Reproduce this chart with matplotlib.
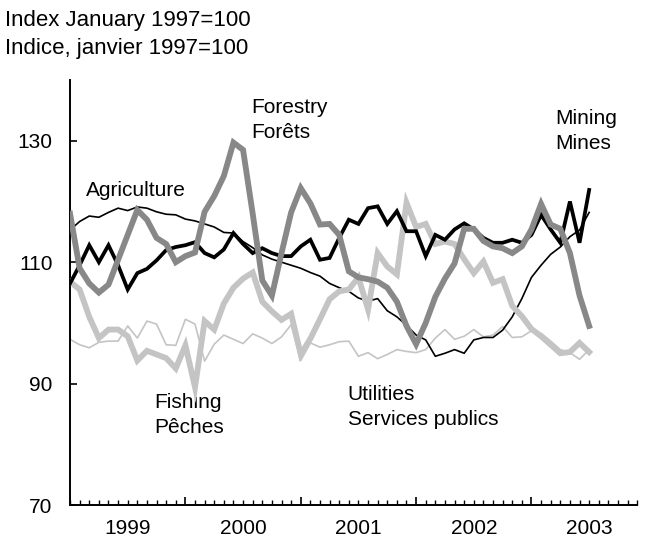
import numpy as np
import matplotlib
matplotlib.use("Agg")
import matplotlib.pyplot as plt
import matplotlib.transforms as mtransforms

plt.rcParams["font.family"] = ["Liberation Sans", "DejaVu Sans"]

# monthly index, January 1999 = 0
months = np.arange(55)
year_labels = ["1999", "2000", "2001", "2002", "2003"]

mining = [106.5, 109.5, 112.8, 110.0, 112.8, 109.5, 105.5, 108.2, 108.9, 110.3,
          112.0, 112.5, 112.8, 113.3, 111.5, 110.8, 112.1, 114.8, 113.0, 111.5,
          112.3, 111.5, 111.0, 111.0, 112.6, 113.7, 110.4, 110.7, 114.0, 117.0,
          116.3, 118.9, 119.2, 116.3, 118.4, 115.1, 115.1, 111.0, 114.5, 113.7,
          115.4, 116.4, 115.4, 114.0, 113.2, 113.2, 113.7, 113.2, 114.5, 117.8,
          115.4, 113.2, 120.0, 113.2, 121.9]

agriculture = [115.3, 116.7, 117.6, 117.4, 118.2, 118.9, 118.5, 119.1, 118.9, 118.3,
               117.9, 117.8, 117.1, 116.8, 116.3, 115.8, 114.9, 114.8, 113.4, 112.4,
               111.2, 110.5, 110.0, 109.5, 109.0, 108.3, 107.7, 106.5, 105.8, 105.2,
               104.1, 103.6, 104.0, 102.0, 101.0, 99.6, 98.0, 97.2, 94.5, 95.0,
               95.6, 95.0, 97.2, 97.6, 97.6, 98.8, 101.0, 104.0, 107.5, 109.5,
               111.3, 112.5, 114.2, 115.3, 118.2]

forestry = [118.0, 109.0, 106.5, 105.0, 106.3, 110.4, 114.5, 118.6, 117.0, 114.0,
            113.0, 110.0, 111.0, 111.6, 118.3, 120.9, 124.2, 129.7, 128.5, 118.0,
            107.0, 104.5, 111.5, 118.2, 122.2, 119.7, 116.2, 116.3, 114.5, 108.5,
            107.5, 107.2, 106.8, 105.8, 103.5, 99.5, 96.5, 100.0, 104.3, 107.3,
            109.8, 115.5, 115.5, 113.5, 112.6, 112.3, 111.5, 112.6, 115.4, 119.6,
            116.2, 115.5, 111.5, 104.5, 99.5]

fishing = [106.8, 105.5, 101.0, 97.5, 98.9, 98.9, 97.8, 93.8, 95.4, 94.8,
           94.2, 92.5, 96.3, 89.4, 100.3, 98.9, 103.2, 105.8, 107.3, 108.3,
           103.5, 101.9, 100.5, 101.5, 94.8, 97.4, 100.6, 103.9, 105.2, 105.5,
           107.5, 102.2, 111.5, 109.3, 108.0, 119.8, 115.8, 116.3, 113.0, 113.4,
           113.0, 110.5, 108.2, 110.1, 106.6, 107.2, 102.8, 101.1, 99.0, 97.8,
           96.4, 95.0, 95.2, 96.7, 95.2]

utilities = [97.3, 96.4, 95.9, 96.8, 97.0, 97.0, 99.5, 97.5, 100.3, 99.8,
             96.4, 96.3, 100.6, 99.8, 93.7, 96.5, 98.0, 97.3, 96.6, 98.2,
             97.5, 96.6, 97.7, 99.7, 93.8, 96.7, 96.0, 96.4, 96.9, 97.0,
             94.5, 95.1, 94.1, 94.8, 95.6, 95.3, 95.1, 95.6, 97.5, 98.9,
             97.3, 97.8, 98.9, 97.7, 98.0, 99.4, 97.6, 97.7, 98.7, 98.3,
             97.0, 95.6, 95.1, 94.0, 95.6]

fig = plt.figure(figsize=(6.46, 5.41), dpi=100)
ax = fig.add_axes([0.1084, 0.0665, 0.878, 0.7855])

ax.plot(months, utilities, color="#c4c4c4", lw=1.2, zorder=2)
ax.plot(months, agriculture, color="black", lw=1.2, zorder=3)
ax.plot(months, fishing, color="#c4c4c4", lw=4.2, solid_joinstyle="miter", zorder=4)
ax.plot(months, mining, color="black", lw=2.7, solid_joinstyle="miter", zorder=5)
ax.plot(months, forestry, color="#888888", lw=4.2, solid_joinstyle="miter", zorder=6)

ax.set_xlim(0, 59)
ax.set_ylim(70, 140)
ax.set_yticks([70, 90, 110, 130])
ax.set_xticks([12, 24, 36, 48])
ax.set_xticks(np.arange(0, 60), minor=True)
ax.set_xticklabels([])
ax.tick_params(axis="y", direction="in", length=5, width=1.2, pad=12.5, labelsize=15)
ax.tick_params(axis="x", which="major", direction="in", length=6, width=1.2)
ax.tick_params(axis="x", which="minor", direction="in", length=3.5, width=1.0)
for side in ("top", "right"):
    ax.spines[side].set_visible(False)
for side in ("left", "bottom"):
    ax.spines[side].set_linewidth(1.4)

trans = mtransforms.blended_transform_factory(ax.transData, ax.transAxes)
for i, lab in enumerate(year_labels):
    ax.text(6 + 12 * i, -0.056, lab, transform=trans, ha="center", va="center",
            fontsize=15)

fig.text(0.008, 0.963, "Index January 1997=100", fontsize=16, va="center")
fig.text(0.008, 0.911, "Indice, janvier 1997=100", fontsize=16, va="center")

kw = dict(fontsize=15, va="center", ha="left", linespacing=1.4)
ax.text(18.8, 133.5, "Forestry\nForêts", **kw)
ax.text(1.7, 121.8, "Agriculture", **kw)
ax.text(50.5, 131.6, "Mining\nMines", **kw)
ax.text(28.9, 86.1, "Utilities\nServices publics", **kw)
ax.text(8.8, 84.8, "Fishing\nPêches", **kw)

fig.savefig("out.png", dpi=100)
